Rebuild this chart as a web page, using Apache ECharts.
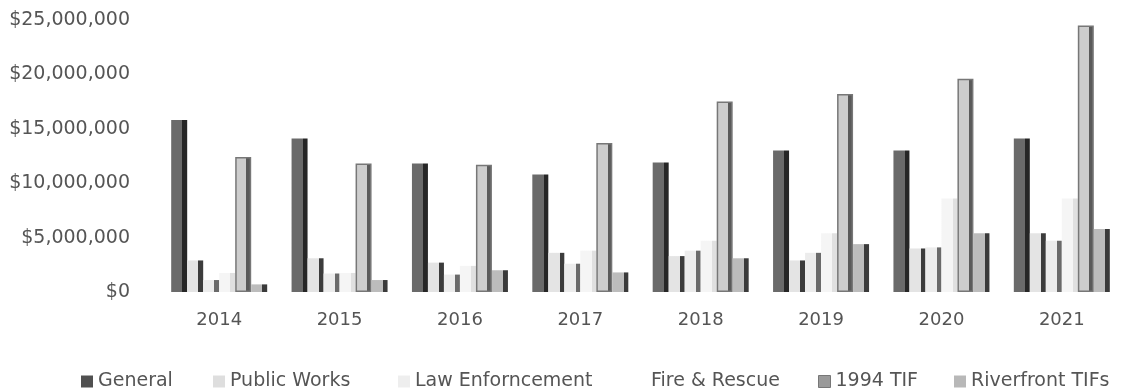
<!DOCTYPE html>
<html>
<head>
<meta charset="utf-8">
<script src="https://cdn.jsdelivr.net/npm/echarts@6/dist/echarts.min.js"></script>
<style>
html,body{margin:0;padding:0;background:#fff;}
#chart{width:1122px;height:392px;}
</style>
</head>
<body>
<div id="chart"></div>
<script>
const categories = ['2014','2015','2016','2017','2018','2019','2020','2021'];
const general        = [15800000,14100000,11800000,10800000,11900000,13000000,13000000,14100000];
const publicWorks    = [2900000,3100000,2700000,3600000,3300000,2900000,4000000,5400000];
const lawEnforcement = [1100000,1700000,1600000,2600000,3800000,3600000,4100000,4700000];
const fireRescue     = [1750000,1750000,2400000,3800000,4700000,5400000,8600000,8600000];
const tif1994        = [12400000,11800000,11700000,13700000,17500000,18200000,19600000,24500000];
const riverfront     = [700000,1100000,2000000,1800000,3100000,4400000,5400000,5800000];
const yTicks = [0,5000000,10000000,15000000,20000000,25000000];
const names = ['General','Public Works','Law Enforncement','Fire & Rescue','1994 TIF','Riverfront TIFs'];

const dataSets = [general, publicWorks, lawEnforcement, fireRescue, tif1994, riverfront];
const styles = [
  {front:'#6a6a6a', side:'#262626', legend:'#505050'},
  {front:'#e4e4e4', side:'#3c3c3c', legend:'#dedede'},
  {front:'#ececec', side:'#6a6a6a', legend:'#eeeeee'},
  {front:'#f5f5f5', side:'#e0e0e0', legend:'#ffffff'},
  {front:'#cdcdcd', side:'#5a5a5a', legend:'#9a9a9a', border:'#777777'},
  {front:'#bcbcbc', side:'#3a3a3a', legend:'#b8b8b8'}
];
function grad(f,s){
  return {type:'linear',x:0,y:0,x2:1,y2:0,colorStops:[
    {offset:0,color:f},{offset:0.7,color:f},{offset:0.7,color:s},{offset:1,color:s}]};
}
const series = names.map((n,i)=>({
  name:n, type:'bar', data:dataSets[i], barWidth:16, barGap:'0%',
  itemStyle:{color:grad(styles[i].front, styles[i].side),
    borderColor: styles[i].border || 'transparent', borderWidth: styles[i].border ? 1.5 : 0},
  emphasis:{disabled:true}
}));
const legendLefts = [76,208,393,629,813,949];
const legends = names.map((n,i)=>({
  data:[{name:n, itemStyle:{color:styles[i].legend, borderColor: i===4?'#777':'transparent', borderWidth: i===4?1:0}}],
  left:legendLefts[i], top:367, itemWidth:12, itemHeight:12, icon:'rect',
  textStyle:{fontFamily:'DejaVu Sans', fontSize:19, color:'#555'},
  selectedMode:false
}));

const chart = echarts.init(document.getElementById('chart'), null, {renderer:'canvas'});
chart.setOption({
  animation:false,
  backgroundColor:'#ffffff',
  grid:{left:159, right:-13, top:20, bottom:100, containLabel:false},
  legend:legends,
  xAxis:{type:'category', data:categories,
    axisLine:{show:false}, axisTick:{show:false},
    axisLabel:{margin:19, fontFamily:'DejaVu Sans', fontSize:18, color:'#555'}},
  yAxis:{type:'value', min:yTicks[0], max:yTicks[yTicks.length-1], interval:yTicks[1]-yTicks[0],
    splitLine:{show:false}, axisLine:{show:false}, axisTick:{show:false},
    axisLabel:{margin:29, fontFamily:'DejaVu Sans', fontSize:19, color:'#555',
      formatter:v=>'$'+v.toLocaleString('en-US')}},
  series:series
});
</script>
</body>
</html>
